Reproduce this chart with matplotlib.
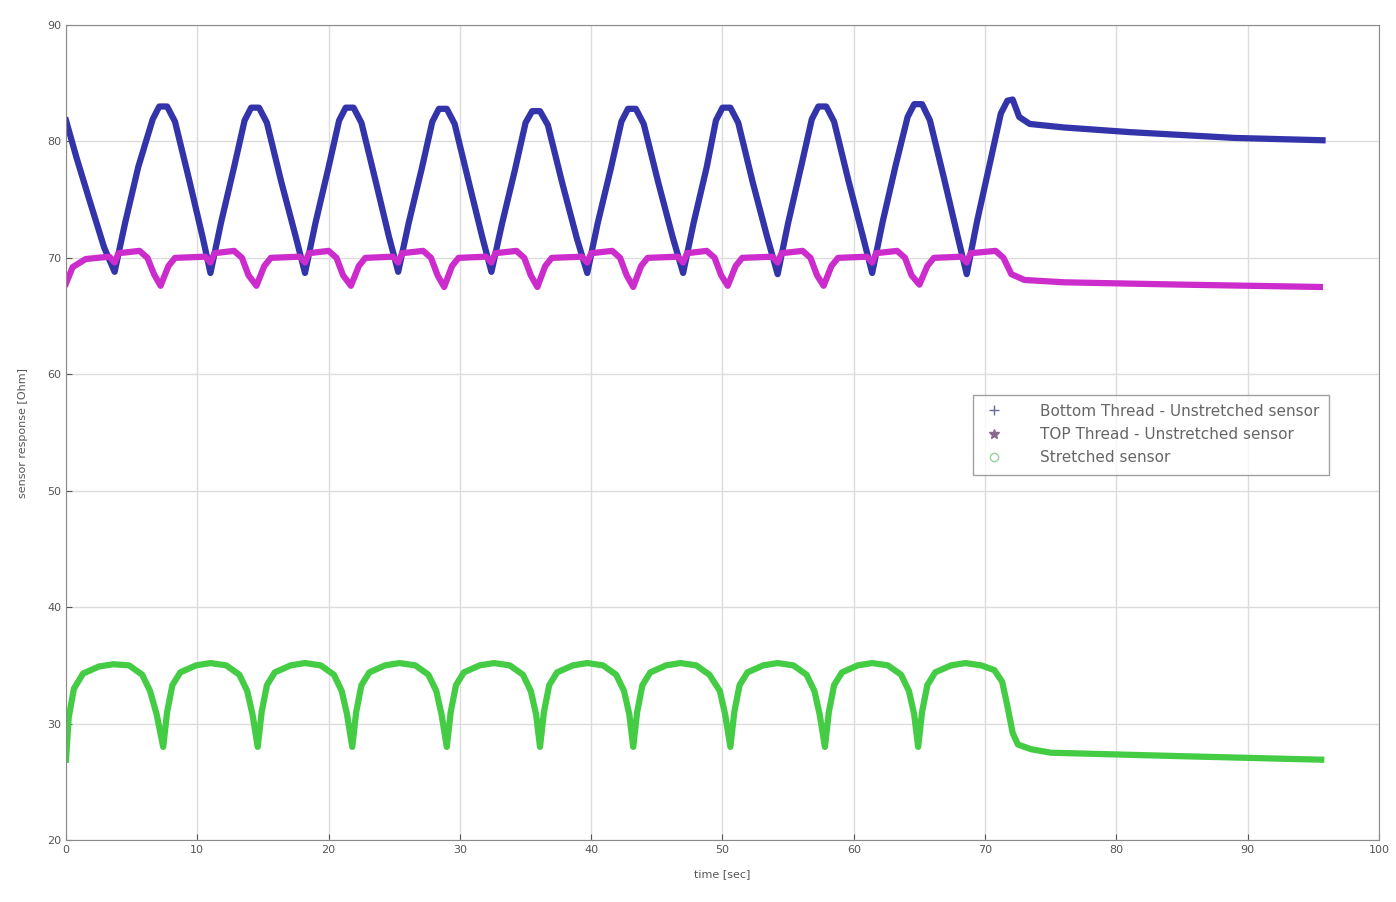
import numpy as np
import matplotlib
matplotlib.use("Agg")
import matplotlib.pyplot as plt
from matplotlib.lines import Line2D

# values (time in s, resistance in Ohm)
bottom_t = [0.0, 0.8, 1.8, 2.9, 3.7,
            4.5, 5.5, 6.6, 7.1, 7.7, 8.3, 9.4, 10.4, 11.0,
            11.8, 12.8, 13.6, 14.1, 14.7, 15.3, 16.4, 17.5, 18.2,
            19.0, 20.0, 20.8, 21.3, 21.9, 22.5, 23.6, 24.6, 25.3,
            26.1, 27.1, 27.9, 28.4, 29.0, 29.6, 30.7, 31.7, 32.4,
            33.2, 34.2, 35.0, 35.5, 36.1, 36.7, 37.8, 38.9, 39.7,
            40.5, 41.5, 42.3, 42.8, 43.4, 44.0, 45.1, 46.2, 47.0,
            47.8, 48.8, 49.5, 50.0, 50.6, 51.2, 52.3, 53.4, 54.2,
            55.0, 56.0, 56.8, 57.3, 57.9, 58.5, 59.6, 60.7, 61.4,
            62.2, 63.2, 64.1, 64.6, 65.2, 65.8, 66.9, 67.9, 68.6,
            69.4, 70.4, 71.2, 71.7, 72.1, 72.6, 73.4, 76.0, 81.0, 89.0, 95.7]
bottom_y = [81.8, 78.6, 74.9, 70.9, 68.8,
            73.0, 77.8, 81.9, 83.0, 83.0, 81.7, 76.6, 71.8, 68.7,
            73.0, 77.8, 81.8, 82.9, 82.9, 81.6, 76.5, 71.8, 68.7,
            73.0, 77.8, 81.8, 82.9, 82.9, 81.6, 76.5, 71.8, 68.8,
            73.0, 77.7, 81.7, 82.8, 82.8, 81.5, 76.4, 71.8, 68.8,
            72.9, 77.6, 81.6, 82.6, 82.6, 81.4, 76.4, 71.7, 68.7,
            73.0, 77.7, 81.7, 82.8, 82.8, 81.5, 76.5, 71.8, 68.7,
            73.0, 77.8, 81.8, 82.9, 82.9, 81.6, 76.5, 71.8, 68.6,
            73.0, 77.9, 81.9, 83.0, 83.0, 81.7, 76.6, 71.8, 68.7,
            73.1, 78.0, 82.1, 83.2, 83.2, 81.8, 76.7, 71.9, 68.6,
            73.2, 78.3, 82.4, 83.5, 83.6, 82.1, 81.5, 81.2, 80.8, 80.3, 80.1]

top_t = [0.0, 0.5, 1.5, 3.3, 3.7, 4.0, 5.6, 6.2, 6.7,
         7.2, 7.8, 8.3, 10.6, 11.0, 11.3, 12.8, 13.4, 13.9,
         14.5, 15.1, 15.6, 17.8, 18.2, 18.5, 20.0, 20.6, 21.1,
         21.7, 22.3, 22.8, 24.9, 25.3, 25.6, 27.2, 27.8, 28.3,
         28.8, 29.4, 29.9, 32.0, 32.4, 32.7, 34.3, 34.9, 35.4,
         35.9, 36.5, 37.0, 39.3, 39.7, 40.0, 41.6, 42.2, 42.7,
         43.2, 43.8, 44.3, 46.6, 47.0, 47.3, 48.8, 49.4, 49.9,
         50.4, 51.0, 51.5, 53.8, 54.2, 54.5, 56.1, 56.7, 57.2,
         57.7, 58.3, 58.8, 61.0, 61.4, 61.7, 63.3, 63.9, 64.4,
         65.0, 65.6, 66.1, 68.2, 68.6, 68.9, 70.8, 71.4, 72.0,
         73.0, 76.0, 85.0, 95.5]
top_y = [67.8, 69.2, 69.9, 70.1, 69.6, 70.4, 70.6, 70.0, 68.6,
         67.6, 69.3, 70.0, 70.1, 69.6, 70.4, 70.6, 70.0, 68.5,
         67.6, 69.3, 70.0, 70.1, 69.6, 70.4, 70.6, 70.0, 68.5,
         67.6, 69.3, 70.0, 70.1, 69.6, 70.4, 70.6, 70.0, 68.5,
         67.5, 69.3, 70.0, 70.1, 69.6, 70.4, 70.6, 70.0, 68.5,
         67.5, 69.3, 70.0, 70.1, 69.6, 70.4, 70.6, 70.0, 68.5,
         67.5, 69.3, 70.0, 70.1, 69.6, 70.4, 70.6, 70.0, 68.5,
         67.6, 69.3, 70.0, 70.1, 69.6, 70.4, 70.6, 70.0, 68.5,
         67.6, 69.3, 70.0, 70.1, 69.6, 70.4, 70.6, 70.0, 68.5,
         67.7, 69.3, 70.0, 70.1, 69.6, 70.4, 70.6, 70.0, 68.6,
         68.1, 67.9, 67.7, 67.5]

stretch_t = [0.0, 0.2, 0.6, 1.3, 2.5, 3.6, 4.8, 5.8, 6.4, 6.9,
             7.4, 7.7, 8.1, 8.7, 9.9, 11.0, 12.2, 13.2, 13.8, 14.2,
             14.6, 14.9, 15.3, 15.9, 17.1, 18.2, 19.4, 20.4, 21.0, 21.4,
             21.8, 22.1, 22.5, 23.1, 24.3, 25.4, 26.6, 27.6, 28.2, 28.6,
             29.0, 29.3, 29.7, 30.3, 31.5, 32.6, 33.8, 34.8, 35.4, 35.8,
             36.1, 36.4, 36.8, 37.4, 38.6, 39.7, 40.9, 41.9, 42.5, 42.9,
             43.2, 43.5, 43.9, 44.5, 45.7, 46.8, 48.0, 49.0, 49.8, 50.2,
             50.6, 50.9, 51.3, 51.9, 53.1, 54.2, 55.4, 56.4, 57.0, 57.4,
             57.8, 58.1, 58.5, 59.1, 60.3, 61.4, 62.6, 63.6, 64.2, 64.6,
             64.9, 65.2, 65.6, 66.2, 67.4, 68.5, 69.7, 70.7, 71.3, 71.7,
             72.1, 72.5, 73.5, 75.0, 85.0, 95.6]
stretch_y = [26.9, 30.5, 33.0, 34.3, 34.9, 35.1, 35.0, 34.2, 32.8, 30.8,
             28.0, 31.0, 33.3, 34.4, 35.0, 35.2, 35.0, 34.2, 32.8, 30.8,
             28.0, 31.0, 33.3, 34.4, 35.0, 35.2, 35.0, 34.2, 32.8, 30.8,
             28.0, 31.0, 33.3, 34.4, 35.0, 35.2, 35.0, 34.2, 32.8, 30.8,
             28.0, 31.0, 33.3, 34.4, 35.0, 35.2, 35.0, 34.2, 32.8, 30.8,
             28.0, 31.0, 33.3, 34.4, 35.0, 35.2, 35.0, 34.2, 32.8, 30.8,
             28.0, 31.0, 33.3, 34.4, 35.0, 35.2, 35.0, 34.2, 32.8, 30.8,
             28.0, 31.0, 33.3, 34.4, 35.0, 35.2, 35.0, 34.2, 32.8, 30.8,
             28.0, 31.0, 33.3, 34.4, 35.0, 35.2, 35.0, 34.2, 32.8, 30.8,
             28.0, 31.0, 33.3, 34.4, 35.0, 35.2, 35.0, 34.6, 33.6, 31.5,
             29.2, 28.2, 27.8, 27.5, 27.2, 26.9]

labels = ["Bottom Thread - Unstretched sensor",
          "TOP Thread - Unstretched sensor",
          "Stretched sensor"]

c_blue = "#3434aa"
c_mag = "#cc2ccc"
c_green = "#44cc44"

fig = plt.figure(figsize=(13.96, 9.02), dpi=100)
ax = fig.add_axes([0.0473, 0.0687, 0.9405, 0.9036])

ax.plot(bottom_t, bottom_y, color=c_blue, lw=4.5, solid_joinstyle="round")
ax.plot(top_t, top_y, color=c_mag, lw=4.5, solid_joinstyle="round")
ax.plot(stretch_t, stretch_y, color=c_green, lw=4.5, solid_joinstyle="round")

ax.set_xlim(0, 100)
ax.set_ylim(20, 90)
ax.set_xticks(np.arange(0, 101, 10))
ax.set_yticks(np.arange(20, 91, 10))
ax.grid(True, color="#dcdcdc", lw=1)
ax.set_axisbelow(True)
for s in ax.spines.values():
    s.set_color("#8a8a8a")
ax.tick_params(labelsize=8, colors="#555555", direction="in", length=4)
ax.set_xlabel("time [sec]", fontsize=8, color="#555555", labelpad=10)
ax.set_ylabel("sensor response [Ohm]", fontsize=8, color="#555555", labelpad=14)

handles = [Line2D([], [], ls="none", marker="+", color="#6a6a9a", ms=7),
           Line2D([], [], ls="none", marker="*", color="#8a6a8a", ms=7),
           Line2D([], [], ls="none", marker="o", mfc="none", color="#9ad09a", ms=6)]
leg = ax.legend(handles, labels, loc="upper left", bbox_to_anchor=(0.685, 0.556),
                fontsize=11, frameon=True, fancybox=False, edgecolor="#8a8a8a",
                borderpad=0.6, labelspacing=0.55, handletextpad=2.2,
                handlelength=1.6)
for t in leg.get_texts():
    t.set_color("#666666")

fig.savefig("out.png", dpi=100)
